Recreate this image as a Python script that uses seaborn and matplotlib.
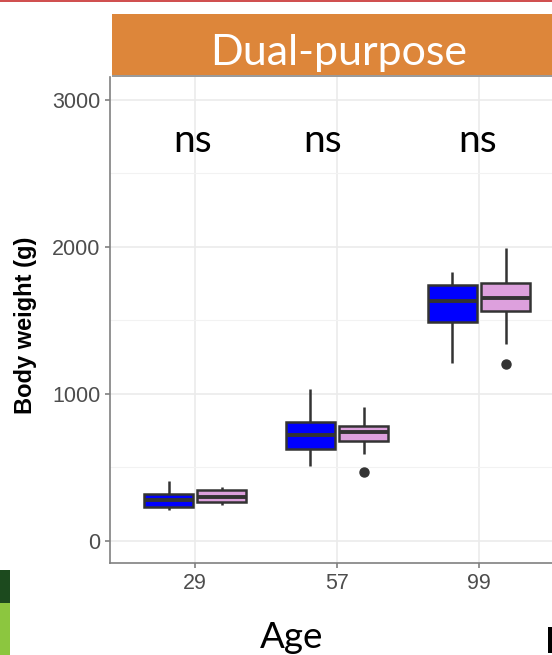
import pandas as pd
import matplotlib
matplotlib.use('Agg')
import matplotlib.pyplot as plt
import seaborn as sns
from matplotlib.patches import Rectangle

ages = ['29', '57', '99']
sexes = ['Male', 'Female']
male_29 = [211, 225, 233, 255, 276, 295, 317, 360, 410]
female_29 = [245, 255, 267, 285, 300, 325, 347, 355, 367]
male_57 = [512, 580, 626, 680, 721, 765, 807, 900, 1034]
female_57 = [472, 592, 680, 710, 739, 760, 782, 850, 914]
male_99 = [1211, 1350, 1490, 1560, 1633, 1690, 1741, 1790, 1830]
female_99 = [1204, 1340, 1565, 1610, 1653, 1700, 1755, 1870, 1993]
signif = ['ns', 'ns', 'ns']

W, H = 552, 655

rows = []
for age, m, f in zip(ages, [male_29, male_57, male_99], [female_29, female_57, female_99]):
    rows += [{'Age': age, 'Sex': 'Male', 'Weight': v} for v in m]
    rows += [{'Age': age, 'Sex': 'Female', 'Weight': v} for v in f]
df = pd.DataFrame(rows)

sns.set_theme(style='white')
plt.rcParams['font.family'] = ['Liberation Sans', 'DejaVu Sans']

fig = plt.figure(figsize=(W / 100, H / 100), dpi=100)
ax = fig.add_axes([110 / W, 1 - 563 / H, 1 - 110 / W, (563 - 77) / H])

sns.boxplot(data=df, x='Age', y='Weight', hue='Sex', order=ages, hue_order=sexes,
            palette={'Male': '#0000FF', 'Female': '#DDA0DD'}, saturation=1,
            width=0.75, gap=0.075, linecolor='#333333', linewidth=1.8,
            showcaps=False, whis=1.5, legend=False,
            medianprops=dict(linewidth=2.8, color='#333333'),
            flierprops=dict(marker='o', markersize=6.5, markerfacecolor='#333333',
                            markeredgecolor='#333333'),
            ax=ax)

ax.set_xlim(-0.6, (W - 195) / 142)
ax.set_ylim(-150, 3156)
ax.set_yticks([0, 1000, 2000, 3000])
ax.set_yticks([500, 1500, 2500], minor=True)
ax.set_axisbelow(True)
ax.grid(True, which='major', color='#EBEBEB', linewidth=1.2)
ax.grid(True, which='minor', axis='y', color='#F2F2F2', linewidth=0.8)

for side in ['top', 'right']:
    ax.spines[side].set_visible(False)
for side in ['left', 'bottom']:
    ax.spines[side].set_color('#808080')
    ax.spines[side].set_linewidth(1.2)
ax.tick_params(axis='both', which='major', direction='out', length=3.5, width=1.2,
               color='#808080', labelcolor='#4D4D4D', labelsize=15.5, pad=3.5,
               left=True, bottom=True)
ax.tick_params(axis='y', which='minor', length=0)

ax.set_xlabel('')
ax.set_ylabel('Body weight (g)', fontsize=17, fontweight='bold', color='black')
ax.yaxis.label.set_verticalalignment('center')
ax.yaxis.set_label_coords((26 - 110) / 442, (563 - 325) / 486)

# significance labels above each age group
ns_shift = [-0.02, -0.1, -0.01]
for i, lab in enumerate(signif):
    ax.text(i + ns_shift[i], 2646, lab, ha='center', va='baseline',
            fontsize=28, family=['Lato', 'DejaVu Sans'], color='black')

# slide decorations: facet header, red rule, logo strip
fig.patches.append(Rectangle((112 / W, 1 - 75 / H), 1, 61 / H, transform=fig.transFigure,
                             facecolor='#DD863A', edgecolor='none'))
fig.patches.append(Rectangle((112 / W, 1 - 77 / H), 1, 2 / H, transform=fig.transFigure,
                             facecolor='#9A9A9A', edgecolor='none'))
fig.text(339 / W, 1 - 65 / H, 'Dual-purpose', ha='center', va='baseline',
         fontsize=31, color='white', family=['Lato', 'DejaVu Sans'])
fig.patches.append(Rectangle((0, 1 - 2 / H), 1, 2 / H, transform=fig.transFigure,
                             facecolor='#D05050', edgecolor='none'))
fig.patches.append(Rectangle((0, 1 - 603 / H), 10 / W, 33 / H, transform=fig.transFigure,
                             facecolor='#1C4A1E', edgecolor='none'))
fig.patches.append(Rectangle((0, 0), 10 / W, 52 / H, transform=fig.transFigure,
                             facecolor='#8CC63F', edgecolor='none'))
# left stroke of the next slide word, cut off by the crop
fig.patches.append(Rectangle((548 / W, 1 - 653 / H), 4 / W, 26 / H, transform=fig.transFigure,
                             facecolor='black', edgecolor='none'))

fig.text(292 / W, 1 - 648 / H, 'Age', ha='center', va='baseline',
         fontsize=26.5, color='black', family=['Lato', 'DejaVu Sans'])

fig.savefig('out.png', dpi=100)
